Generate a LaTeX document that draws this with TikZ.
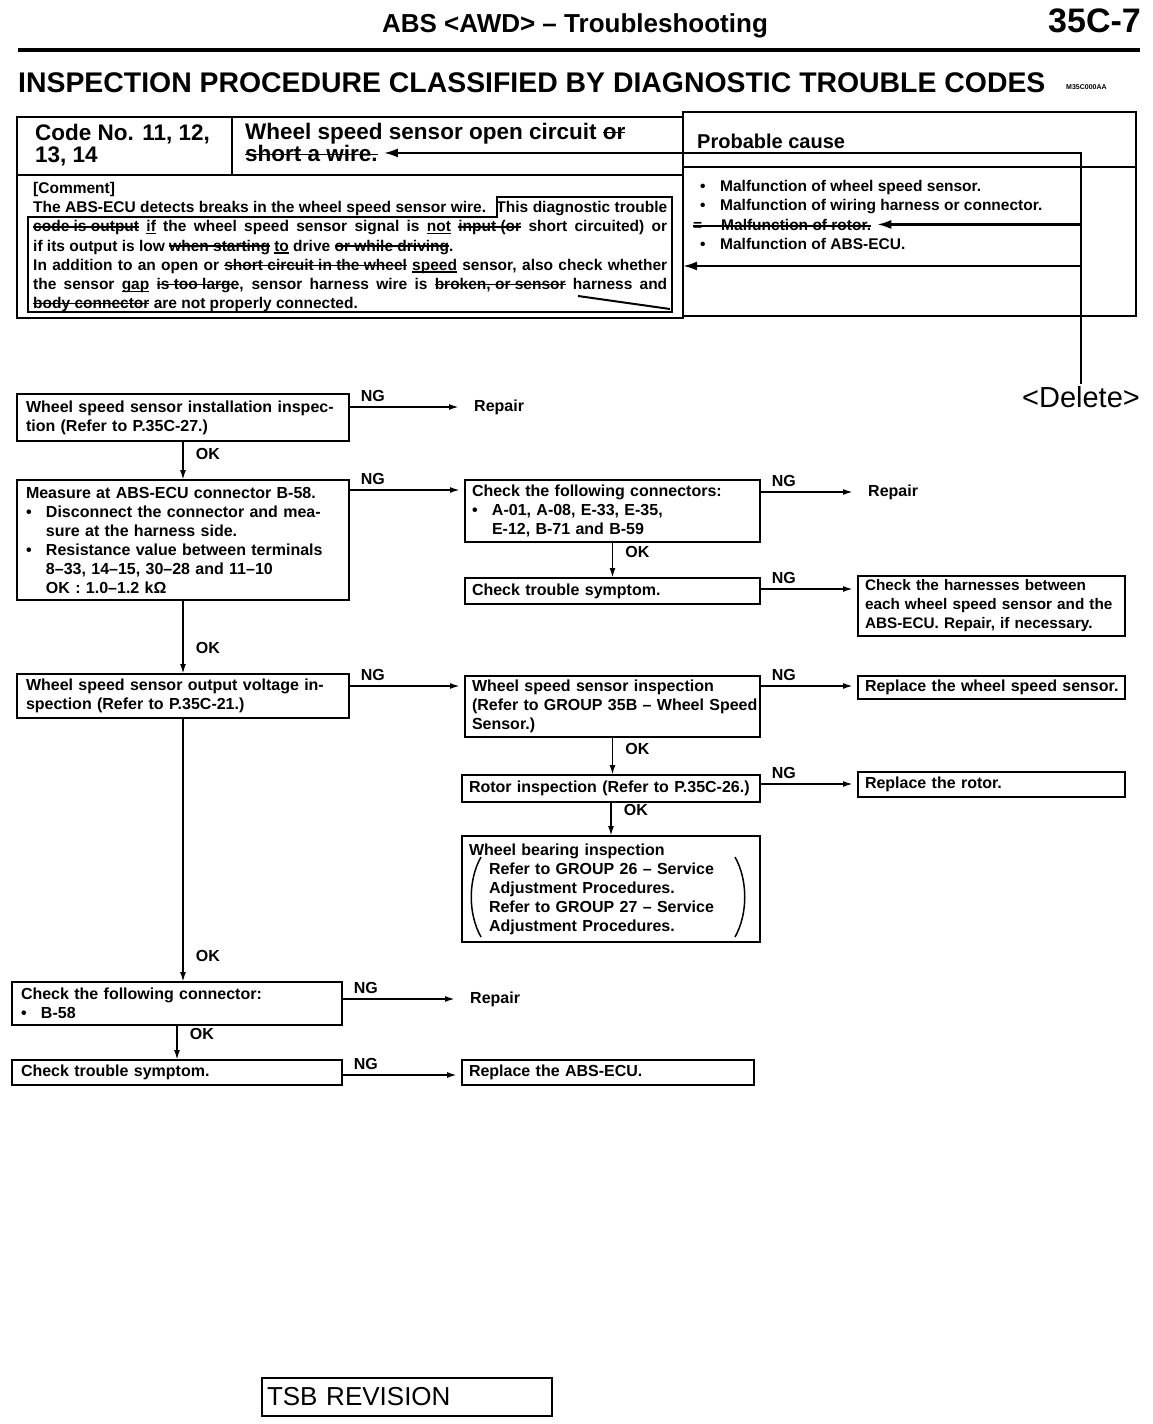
\documentclass[tikz,border=0pt]{standalone}
\usepackage{fontspec}
\setmainfont{Liberation Sans}
\usetikzlibrary{arrows.meta}
\newcommand{\flowfont}{\fontsize{16}{19}\selectfont\bfseries}
\newcommand{\cmtfont}{\fontsize{15.5}{19.2}\selectfont\bfseries}
\newcommand{\hdrfont}{\fontsize{22.5}{22}\selectfont\bfseries}
\newcommand{\bul}{\makebox[20pt][l]{\textbullet}}
\newcommand{\ind}{\hspace*{20pt}}
\newcommand{\strk}[1]{{\setbox0\hbox{#1}\rlap{\rule[0.27em]{\wd0}{1.4pt}}\box0}}
\newcommand{\uln}[1]{{\setbox0\hbox{#1}\rlap{\rule[-2.6pt]{\wd0}{1.4pt}}\box0}}

\begin{document}
\begin{tikzpicture}[x=1pt, y=-1pt,
    box/.style={draw, line width=2.6pt, anchor=north west, outer sep=0pt, inner ysep=3pt, align=left, font=\flowfont},
    abox/.style={box, inner xsep=9pt, text width=314pt},
    bbox/.style={box, inner xsep=7pt},
    cell/.style={draw, line width=2.6pt, anchor=north west, outer sep=0pt, inner sep=0pt},
    flow/.style={line width=1.8pt, -{Latex[length=10pt,width=6pt]}},
    revarr/.style={line width=2.2pt, -{Latex[length=14pt,width=9pt]}},
    paren/.style={line width=1.5pt},
    ok/.style={font=\flowfont, anchor=west, xshift=12pt, yshift=26pt, inner sep=0pt},
    ng/.style={font=\flowfont, anchor=south west, xshift=11pt, yshift=4pt, inner sep=0pt},
    plain/.style={font=\flowfont, anchor=west, inner sep=0pt},
    pcl/.style={font=\cmtfont, anchor=base west, inner sep=0pt}]

  \fill[white] (0,0) rectangle (1152,1424);
  \useasboundingbox (0,0) rectangle (1152,1424);

  % page header
  \node[font=\fontsize{26}{28}\selectfont\bfseries] (title) at (575,26) {ABS <AWD> – Troubleshooting};
  \node[font=\fontsize{34}{36}\selectfont\bfseries, anchor=east, inner sep=0pt] (page) at (1141,21) {35C-7};
  \draw[line width=4pt] (18,50) -- (1140,50);
  \node[font=\fontsize{28.4}{30}\selectfont\bfseries, anchor=west, inner sep=0pt] (heading) at (18,83) {INSPECTION PROCEDURE CLASSIFIED BY DIAGNOSTIC TROUBLE CODES};
  \node[font=\fontsize{7}{8}\selectfont\bfseries, anchor=west, inner sep=0pt] (refno) at (1066,87) {M35C000AA};

  % code table
  \node[cell, minimum width=215pt, minimum height=58pt] (codecell) at (17,117) {};
  \node[cell, minimum width=451pt, minimum height=58pt] (desccell) at (232,117) {};
  \node[cell, minimum width=666pt, minimum height=143pt] (cmtcell) at (17,175) {};
  \node[cell, minimum width=453pt, minimum height=55pt] (pchead) at (683,112) {};
  \node[cell, minimum width=453pt, minimum height=149pt] (pcbody) at (683,167) {};

  \node[font=\hdrfont, anchor=north west, align=left, inner sep=0pt] (codetx) at (35,124) {Code No. 11, 12,\\13, 14};
  \node[font=\hdrfont, anchor=base west, inner sep=0pt] (desc1) at (245,139) {Wheel speed sensor open circuit \strk{or}};
  \node[font=\hdrfont, anchor=base west, inner ysep=0pt, inner xsep=6pt] (desc2) at (239,161) {\strk{short a wire.}};
  \node[font=\fontsize{20}{22}\selectfont\bfseries, anchor=base west, inner sep=0pt] (pctitle) at (697,148) {Probable cause};

  \node[pcl] (pc1) at (700,191) {\bul Malfunction of wheel speed sensor.};
  \node[pcl] (pc2) at (700,210) {\bul Malfunction of wiring harness or connector.};
  \node[pcl] (pc3) at (693,230) {=\hspace{19pt}Malfunction of rotor.};
  \node[pcl] (pc4) at (700,249) {\bul Malfunction of ABS-ECU.};
  \draw[line width=1.4pt] ([yshift=4pt]pc3.base west) -- ([yshift=4pt]pc3.base east);

  \node[font=\cmtfont, anchor=north west, align=left, inner sep=0pt] (cmttx) at (33,182) {[Comment]\\
    \makebox[634pt][s]{The ABS-ECU detects breaks in the wheel speed sensor wire. \ This diagnostic trouble}\\
    \makebox[634pt][s]{\strk{code is output} \uln{if} the wheel speed sensor signal is \uln{not} \strk{input (or} short circuited) or}\\
    if its output is low \strk{when starting} \uln{to} drive \strk{or while driving}.\\
    \makebox[634pt][s]{In addition to an open or \strk{short circuit in the wheel} \uln{speed} sensor, also check whether}\\
    \makebox[634pt][s]{the sensor \uln{gap} \strk{is too large}, sensor harness wire is \strk{broken, or sensor} harness and}\\
    \strk{body connector} are not properly connected.};
  \draw[line width=2pt] (28,217) -- (497,217) -- (497,197) -- (672,197) -- (672,312) -- (28,312) -- cycle;
  \draw[line width=2pt] (578,296) -- (670,309);

  % revision marks
  \node[font=\fontsize{29}{30}\selectfont, inner sep=2pt] (del) at (1081,397) {<Delete>};
  \coordinate (j2) at (del.north |- pc3.east);
  \coordinate (j3) at (1081,266);
  \draw[revarr] (del.north) |- (desc2.east);
  \draw[revarr] (j2) -- ([xshift=6pt]pc3.east);
  \draw[revarr] (j3) -- (j3 -| cmtcell.east);

  % flow chart
  \node[abox, minimum height=47pt] (inst) at (17,394) {\makebox[314pt][s]{Wheel speed sensor installation inspec-}\\tion (Refer to P.35C-27.)};
  \node[abox, minimum height=120pt] (meas) at (17,480) {Measure at ABS-ECU connector B-58.\\
    \makebox[314pt][s]{\bul Disconnect the connector and mea-}\\
    \ind sure at the harness side.\\
    \makebox[314pt][s]{\bul Resistance value between terminals}\\
    \ind 8–33, 14–15, 30–28 and 11–10\\
    \ind OK : 1.0–1.2 kΩ};
  \node[abox, minimum height=44pt] (outv) at (17,674) {\makebox[314pt][s]{Wheel speed sensor output voltage in-}\\spection (Refer to P.35C-21.)};
  \node[abox, text width=312pt, minimum height=43pt] (conA) at (12,982) {Check the following connector:\\\bul B-58};
  \node[abox, text width=312pt, minimum height=25pt] (symA) at (12,1060) {Check trouble symptom.};

  \node[bbox, text width=281pt, minimum height=62pt] (conB) at (465,480) {Check the following connectors:\\\bul A-01, A-08, E-33, E-35,\\\ind E-12, B-71 and B-59};
  \node[bbox, text width=281pt, minimum height=26pt] (symB) at (465,578) {Check trouble symptom.};
  \node[bbox, text width=281pt, minimum height=61pt] (wss) at (465,676) {Wheel speed sensor inspection\\\mbox{(Refer to GROUP 35B – Wheel Speed}\\Sensor.)};
  \node[bbox, text width=284pt, minimum height=27pt] (rot) at (462,775) {Rotor inspection (Refer to P.35C-26.)};
  \node[bbox, text width=284pt, minimum height=106pt] (bear) at (462,836) {Wheel bearing inspection\\
    \ind\makebox[240pt][s]{Refer to GROUP 26 – Service}\\
    \ind Adjustment Procedures.\\
    \ind\makebox[240pt][s]{Refer to GROUP 27 – Service}\\
    \ind Adjustment Procedures.};
  \draw[paren] (481,857) .. controls (468,880) and (468,914) .. (481,937);
  \draw[paren] (735,857) .. controls (748,880) and (748,914) .. (735,937);
  \node[bbox, text width=278pt, minimum height=25pt] (recu) at (462,1060) {Replace the ABS-ECU.};

  \node[bbox, font=\fontsize{15.3}{19}\selectfont\bfseries, text width=253pt, minimum height=60pt] (harn) at (858,576) {\makebox[253pt][s]{Check the harnesses between}\\\makebox[253pt][s]{each wheel speed sensor and the}\\\makebox[253pt][s]{ABS-ECU. Repair, if necessary.}};
  \node[bbox, text width=253pt, minimum height=23pt] (rwss) at (858,676) {\makebox[253pt][s]{Replace the wheel speed sensor.}};
  \node[bbox, text width=253pt, minimum height=25pt] (rrot) at (858,772) {Replace the rotor.};

  \node[plain] (rep1) at (474,407) {Repair};
  \node[plain] (rep2) at (868,492) {Repair};
  \node[plain] (rep3) at (470,999) {Repair};

  \draw[flow] (inst.south) -- (meas.north) node[ok, pos=1] {OK};
  \draw[flow] (meas.south) -- (outv.north) node[ok, pos=1] {OK};
  \draw[flow] (outv.south) -- (outv.south |- conA.north) node[ok, pos=1] {OK};
  \draw[flow] (conA.south) -- (symA.north) node[ok, pos=1] {OK};
  \draw[flow] (conB.south) -- (symB.north) node[ok, pos=1] {OK};
  \draw[flow] (wss.south) -- (wss.south |- rot.north) node[ok, pos=1] {OK};
  \draw[flow] (rot.south) -- (bear.north) node[ok, pos=1] {OK};

  \coordinate (ng1) at ([yshift=-13pt]inst.north east);
  \coordinate (ng2) at ([yshift=-10pt]meas.north east);
  \coordinate (ng3) at ([yshift=-12pt]conB.north east);
  \coordinate (ng4) at ([yshift=-11pt]symB.north east);
  \coordinate (ng5) at ([yshift=-12pt]outv.north east);
  \coordinate (ng6) at ([yshift=-10pt]wss.north east);
  \coordinate (ng7) at ([yshift=-9pt]rot.north east);
  \coordinate (ng8) at ([yshift=-17pt]conA.north east);
  \coordinate (ng9) at ([yshift=-15pt]symA.north east);

  \draw[flow, shorten >=15pt] (ng1) -- (ng1 -| rep1.west) node[ng, pos=0] {NG};
  \draw[flow, shorten >=5pt] (ng2) -- (ng2 -| conB.west) node[ng, pos=0] {NG};
  \draw[flow, shorten >=15pt] (ng3) -- (ng3 -| rep2.west) node[ng, pos=0] {NG};
  \draw[flow, shorten >=5pt] (ng4) -- (ng4 -| harn.west) node[ng, pos=0] {NG};
  \draw[flow, shorten >=5pt] (ng5) -- (ng5 -| wss.west) node[ng, pos=0] {NG};
  \draw[flow, shorten >=5pt] (ng6) -- (ng6 -| rwss.west) node[ng, pos=0] {NG};
  \draw[flow, shorten >=5pt] (ng7) -- (ng7 -| rrot.west) node[ng, pos=0] {NG};
  \draw[flow, shorten >=15pt] (ng8) -- (ng8 -| rep3.west) node[ng, pos=0] {NG};
  \draw[flow, shorten >=5pt] (ng9) -- (ng9 -| recu.west) node[ng, pos=0] {NG};

  \node[draw, line width=2pt, anchor=north west, outer sep=0pt, minimum width=290pt, minimum height=38pt, text width=280pt, inner xsep=5pt, align=left, font=\fontsize{26}{28}\selectfont] (tsb) at (262,1378) {TSB REVISION};
\end{tikzpicture}
\end{document}
